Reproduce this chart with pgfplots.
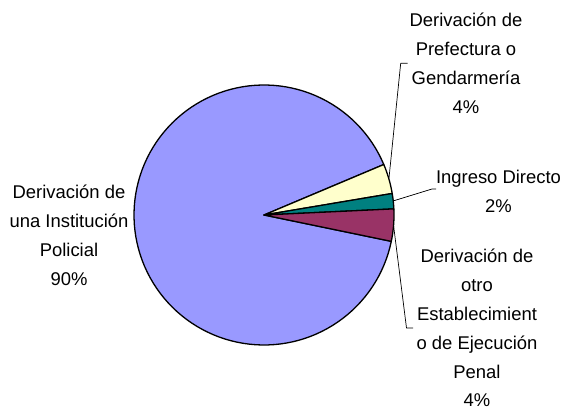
\documentclass[border=0pt]{standalone}
\usepackage{pgfplots}
\pgfplotsset{compat=1.18}
\usepackage{fontspec}
\setmainfont{Liberation Sans}
\definecolor{cBlue}{HTML}{9999FF}
\definecolor{cYellow}{HTML}{FFFFCC}
\definecolor{cTeal}{HTML}{008080}
\definecolor{cMaroon}{HTML}{993366}
% shares in percent
\def\vMaroon{4.0}% Derivacion de otro Establecimiento de Ejecucion Penal
\def\vTeal{1.9}% Ingreso Directo
\def\vYellow{3.7}% Derivacion de Prefectura o Gendarmeria
\def\vBlue{90.4}% Derivacion de una Institucion Policial
\def\cx{264}\def\cy{199}\def\rr{130}
\begin{document}
\begin{tikzpicture}
\pgfmathsetmacro{\aA}{-11.7}
\pgfmathsetmacro{\aB}{\aA+3.6*\vMaroon}
\pgfmathsetmacro{\aC}{\aB+3.6*\vTeal}
\pgfmathsetmacro{\aD}{\aC+3.6*\vYellow}
\pgfmathsetmacro{\aE}{\aD+3.6*\vBlue}
\begin{axis}[
  x=1bp, y=1bp, scale only axis,
  xmin=0, xmax=565, ymin=0, ymax=414,
  hide axis, clip=false,
  at={(0,0)}, anchor=south west,
  every axis plot/.append style={line join=round},
]
\addplot[draw=black, fill=cBlue, line width=1.3bp, domain=\aD:\aE, samples=120, variable=\t]
  ({\cx+\rr*cos(\t)},{\cy+\rr*sin(\t)}) -- (axis cs:\cx,\cy) -- cycle;
\addplot[draw=black, fill=cYellow, line width=1.3bp, domain=\aC:\aD, samples=10, variable=\t]
  ({\cx+\rr*cos(\t)},{\cy+\rr*sin(\t)}) -- (axis cs:\cx,\cy) -- cycle;
\addplot[draw=black, fill=cTeal, line width=1.3bp, domain=\aB:\aC, samples=8, variable=\t]
  ({\cx+\rr*cos(\t)},{\cy+\rr*sin(\t)}) -- (axis cs:\cx,\cy) -- cycle;
\addplot[draw=black, fill=cMaroon, line width=1.3bp, domain=\aA:\aB, samples=10, variable=\t]
  ({\cx+\rr*cos(\t)},{\cy+\rr*sin(\t)}) -- (axis cs:\cx,\cy) -- cycle;
% leader lines
\addplot[black, line width=0.7bp] coordinates {(389,236) (400.7,350.7) (407.7,350.7)};
\addplot[black, line width=0.7bp] coordinates {(393,213) (432,225) (436,225)};
\addplot[black, line width=0.7bp] coordinates {(393.5,189) (406.5,86) (413,86)};
% labels
\begin{scope}[every node/.style={align=center, inner sep=0pt, font=\fontsize{18.5}{29}\selectfont}]
\node at (axis cs:466,350.5) {Derivación de\\Prefectura o\\Gendarmería\\4\%};
\node at (axis cs:498.5,223) {Ingreso Directo\\2\%};
\node at (axis cs:477,86) {Derivación de\\otro\\Establecimient\\o de Ejecución\\Penal\\4\%};
\node at (axis cs:69,178.5) {Derivación de\\una Institución\\Policial\\90\%};
\end{scope}
\end{axis}
\pgfresetboundingbox
\path[use as bounding box] (0,0) rectangle (565bp,414bp);
\end{tikzpicture}
\end{document}
